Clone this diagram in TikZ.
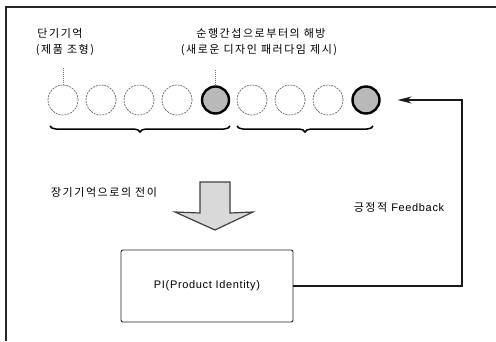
\documentclass[tikz,border=0pt]{standalone}
\usepackage{fontspec}
\setmainfont{Liberation Sans}
\newfontfamily\kr{Noto Sans CJK KR}[LetterSpace=14]
\usetikzlibrary{decorations.pathreplacing,arrows.meta}
\begin{document}
\begin{tikzpicture}[x=1pt,y=-1pt,
  emptyc/.style={circle,draw=black!60,line width=0.7pt,dash pattern=on 2pt off 1pt,minimum size=30pt,inner sep=0pt},
  darkc/.style={circle,draw=black,line width=2.4pt,fill=gray!55,minimum size=27pt,inner sep=0pt},
  krlab/.style={font=\kr\fontsize{11}{13}\selectfont,inner sep=1pt},
  leader/.style={draw=black!55,line width=0.5pt,dash pattern=on 1pt off 1pt},
  bracestyle/.style={decorate,decoration={brace,mirror,amplitude=6pt},line width=1.5pt},
  frame/.style={line width=1.4pt,black!85},
  latin/.style={font=\fontsize{11}{13}\selectfont\addfontfeature{LetterSpace=6}},
  pibox/.style={draw=black!85,line width=0.9pt,rounded corners=2pt,minimum width=172pt,minimum height=72pt,latin},
  fbline/.style={line width=1.1pt,black!90,-{Stealth[length=14pt,width=7pt]}}
]
\useasboundingbox (0,0) rectangle (496,341);
% frame
\draw[frame] (6,341) -- (6,7) -- (496,7);

% labels
\node[krlab] (l1a) at (60,33) {단기기억};
\node[krlab] (l1b) at (65,50) {(제품 조형)};
\node[krlab] (l2a) at (261,33) {순행간섭으로부터의 해방};
\node[krlab] (l2b) at (259,50) {(새로운 디자인 패러다임 제시)};

% circles
\node[emptyc] (c1) at (63,100) {};
\node[emptyc] (c2) at (101,100) {};
\node[emptyc] (c3) at (139,100) {};
\node[emptyc] (c4) at (177,100) {};
\node[darkc]  (c5) at (215.5,100) {};
\node[emptyc] (c6) at (252,100) {};
\node[emptyc] (c7) at (290,100) {};
\node[emptyc] (c8) at (328,100) {};
\node[darkc]  (c9) at (366,100) {};

% leaders
\coordinate (t1) at ([yshift=17pt]c1.north);
\coordinate (t5) at ([yshift=16pt]c5.north);
\draw[leader] (c1.north) -- (t1);
\draw[leader] (c5.north) -- (t5);

% braces
\coordinate (b1s) at (50,126);
\coordinate (b1e) at (230,126);
\coordinate (b2s) at (237,126);
\coordinate (b2e) at (373,126);
\draw[bracestyle] (b1s) -- (b1e);
\draw[bracestyle] (b2s) -- (b2e);

% big arrow
\draw[draw=black!75,line width=1.2pt,fill=gray!30,line join=miter]
  (200,182) -- (230,182) -- (230,213) -- (253,212) -- (215,230) -- (175,212) -- (200,213) -- cycle;
\node[krlab] (trans) at (104,192) {장기기억으로의 전이};

% PI box
\node[pibox] (pi) at (207,286) {PI(Product Identity)};

% feedback
\coordinate (corner) at (462,100);
\coordinate (fbend) at ([xshift=17pt]c9.east);
\draw[fbline] (pi.east) -| (corner) -- (fbend);
\node[inner sep=1pt] (fb) at (399,207) {{\kr\fontsize{11}{13}\selectfont 긍정적}\hspace{4pt}{\fontsize{11}{13}\selectfont\addfontfeature{LetterSpace=6}Feedback}};
\end{tikzpicture}
\end{document}
